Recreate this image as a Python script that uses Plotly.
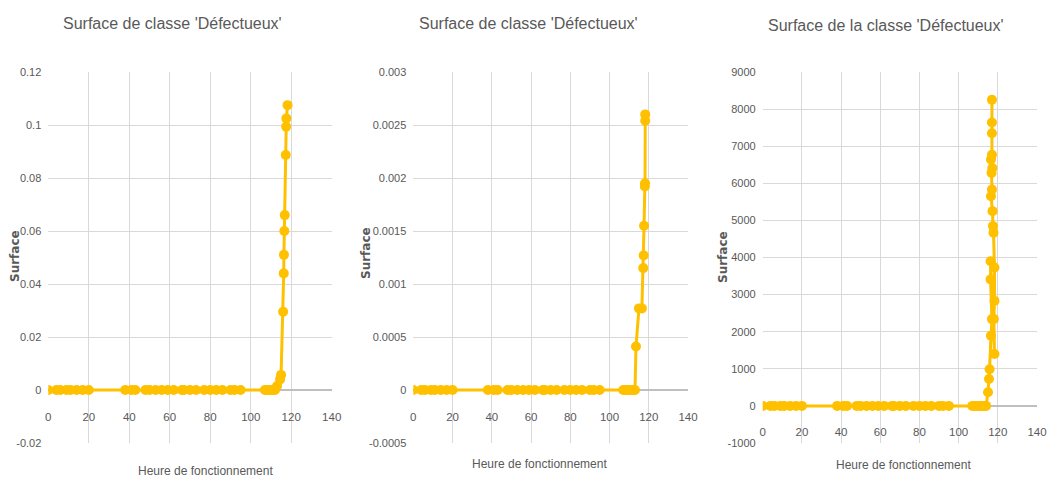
import plotly.graph_objects as go

# ---------------- data ----------------
hours_flat = [0, 4, 6, 9, 11, 14, 17, 20, 38, 41, 43, 48, 50, 53, 56, 59, 62, 66,
              67, 70, 73, 77, 80, 83, 86, 90, 92, 95]

hours_tail_1 = [107, 108, 109, 110, 111, 112, 113, 114.5, 115, 116, 116.3, 116.4,
                116.6, 116.8, 117.3, 117.5, 117.6, 118.2]
surface_tail_1 = [0, 0, 0, 0, 0, 0, 0.0015, 0.004, 0.0057, 0.0295, 0.044, 0.051,
                  0.060, 0.066, 0.0887, 0.0994, 0.1025, 0.1075]

hours_tail_2 = [107, 108, 109, 110, 111, 112, 113, 113.5, 115, 116.5, 117.2, 117.4,
                117.6, 118.0, 118.1, 118.2, 118.2]
surface_tail_2 = [0, 0, 0, 0, 0, 0, 0, 0.00041, 0.00077, 0.00077, 0.00115, 0.00127,
                  0.00155, 0.00192, 0.00195, 0.00254, 0.0026]

hours_tail_3 = [107, 108, 109, 110, 111, 112, 113, 114, 115, 115.5, 115.8, 116.5,
                117.0, 116.3, 116.3, 118.3, 118.0, 118.3, 118.3, 117.8, 117.5, 117.3,
                116.5, 117.0, 116.8, 117.2, 116.5, 117.0, 117.0, 117.0, 117.0]
surface_tail_3 = [0, 0, 0, 0, 0, 0, 0, 0, 370, 725, 990, 1890, 2340, 3410, 3900, 1400,
                  2340, 2830, 3730, 4670, 4850, 5250, 5650, 5830, 6280, 6410, 6640,
                  6770, 7350, 7640, 8250]

titles = ["Surface de classe 'Défectueux'", "Surface de classe 'Défectueux'",
          "Surface de la classe 'Défectueux'"]
x_title = "Heure de fonctionnement"
y_title = "Surface"

x_ticks = [0, 20, 40, 60, 80, 100, 120, 140]
x_ticktext = ["0", "20", "40", "60", "80", "100", "120", "140"]

y_ticks_1 = [-0.02, 0, 0.02, 0.04, 0.06, 0.08, 0.1, 0.12]
y_text_1 = ["-0.02", "0", "0.02", "0.04", "0.06", "0.08", "0.1", "0.12"]
y_ticks_2 = [-0.0005, 0, 0.0005, 0.001, 0.0015, 0.002, 0.0025, 0.003]
y_text_2 = ["-0.0005", "0", "0.0005", "0.001", "0.0015", "0.002", "0.0025", "0.003"]
y_ticks_3 = [-1000, 0, 1000, 2000, 3000, 4000, 5000, 6000, 7000, 8000, 9000]
y_text_3 = ["-1000", "0", "1000", "2000", "3000", "4000", "5000", "6000", "7000",
            "8000", "9000"]

# ---------------- styling ----------------
FONT = "Liberation Sans, Arial, sans-serif"
GOLD = "#FFC000"
GRID = "#d9d9d9"
TXT = "#595959"

OFF = 8                      # default page body margin
W, H = 1056 - OFF, 487 - 2 * OFF


def px(x):
    return (x - OFF) / W


def py(y):
    return 1 - (y - OFF) / H


y_dom = [py(443), py(72)]
x_doms = [[px(48.3), px(331.7)], [px(413.3), px(688)], [px(762.7), px(1037)]]

panels = [
    (hours_flat + hours_tail_1, [0] * len(hours_flat) + surface_tail_1, y_ticks_1, y_text_1),
    (hours_flat + hours_tail_2, [0] * len(hours_flat) + surface_tail_2, y_ticks_2, y_text_2),
    (hours_flat + hours_tail_3, [0] * len(hours_flat) + surface_tail_3, y_ticks_3, y_text_3),
]

title_pos = [(172, 24), (528, 24), (886, 26)]
xtitle_pos = [(205, 471), (539, 464), (903, 465)]
ytitle_pos = [(15, 256), (366, 253), (723, 257)]

fig = go.Figure()
layout = dict(
    width=W, height=H, margin=dict(l=0, r=0, t=0, b=0, pad=0, autoexpand=False),
    paper_bgcolor="white", plot_bgcolor="white", showlegend=False,
    font=dict(family=FONT, color=TXT, size=11),
    annotations=[],
)

for i, (xs, ys, yt, ytxt) in enumerate(panels):
    n = "" if i == 0 else str(i + 1)
    fig.add_trace(go.Scatter(
        x=xs, y=ys, mode="lines+markers", xaxis="x" + n, yaxis="y" + n,
        line=dict(color=GOLD, width=3),
        marker=dict(color=GOLD, size=10, symbol="circle"),
        hoverinfo="skip",
    ))
    ymin, ymax = yt[0], yt[-1]
    zero_pos = y_dom[0] + (0 - ymin) / (ymax - ymin) * (y_dom[1] - y_dom[0])
    layout["xaxis" + n] = dict(
        domain=x_doms[i], range=[0, 140], anchor="free", position=zero_pos,
        tickvals=x_ticks, ticktext=x_ticktext, showgrid=True, gridcolor=GRID,
        gridwidth=1, zeroline=False, showline=False, ticks="", automargin=False,
        ticklabelstandoff=18, ticklabeloverflow="allow",
        tickfont=dict(family=FONT, size=11.5, color=TXT), fixedrange=True,
    )
    layout["yaxis" + n] = dict(
        domain=y_dom, range=[ymin, ymax], anchor="x" + n, automargin=False,
        tickvals=yt, ticktext=ytxt, showgrid=True, gridcolor=GRID, gridwidth=1,
        zeroline=True, zerolinecolor="#bfbfbf", zerolinewidth=2, showline=False,
        ticks="", ticklabelstandoff=6, tickfont=dict(family=FONT, size=11, color=TXT),
        fixedrange=True,
    )
    tx, ty = title_pos[i]
    layout["annotations"].append(dict(
        text=titles[i], x=px(tx), y=py(ty), xref="paper", yref="paper",
        showarrow=False, xanchor="center", yanchor="middle",
        font=dict(family=FONT, size=16, color=TXT)))
    ax_, ay_ = xtitle_pos[i]
    layout["annotations"].append(dict(
        text=x_title, x=px(ax_), y=py(ay_), xref="paper", yref="paper",
        showarrow=False, xanchor="center", yanchor="middle",
        font=dict(family=FONT, size=12, color=TXT)))
    yx, yy = ytitle_pos[i]
    layout["annotations"].append(dict(
        text="<b>" + y_title + "</b>", x=px(yx), y=py(yy), xref="paper",
        yref="paper", showarrow=False, xanchor="center", yanchor="middle",
        textangle=-90, font=dict(family="DejaVu Sans, sans-serif", size=12, color=TXT)))

fig.update_layout(**layout)
fig.write_html("out.html")
